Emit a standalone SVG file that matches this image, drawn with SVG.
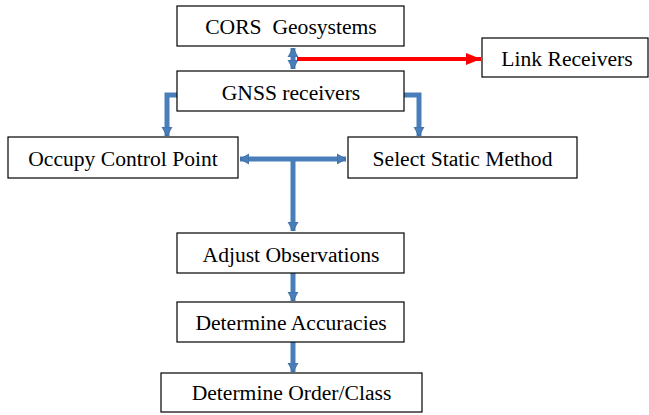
<svg xmlns="http://www.w3.org/2000/svg" width="649" height="415" viewBox="0 0 649 415">
<style>
.box{fill:#fff;stroke:#000;stroke-width:1.2}
.lbl{font-family:'Liberation Serif','Times New Roman',Times,serif;font-size:21.6px;fill:#000;text-anchor:middle}
.blue{fill:none;stroke:#4A7EBB;stroke-width:5}
.red{fill:none;stroke:#FF0000;stroke-width:4}
</style>
<defs>
<marker id="bh" markerUnits="userSpaceOnUse" markerWidth="12" markerHeight="12" viewBox="0 0 12 12" refX="9" refY="6" orient="auto-start-reverse">
<path d="M0,1 L9,6 L0,11 Z" fill="#4A7EBB" stroke="#3B6A9E" stroke-width="0.8"/>
</marker>
<marker id="rh" markerUnits="userSpaceOnUse" markerWidth="16" markerHeight="14" viewBox="0 0 16 14" refX="15" refY="7" orient="auto">
<path d="M0,1 L15,7 L0,13 Z" fill="#FF0000"/>
</marker>
</defs>
<g id="connectors">
<line class="blue" x1="293" y1="48" x2="293" y2="69" marker-start="url(#bh)" marker-end="url(#bh)"/>
<line class="red" x1="297" y1="59" x2="481" y2="59" marker-end="url(#rh)"/>
<path class="blue" d="M177,95 H167 V136" marker-end="url(#bh)"/>
<path class="blue" d="M404,95 H419 V136" marker-end="url(#bh)"/>
<line class="blue" x1="240" y1="159" x2="346" y2="159" marker-start="url(#bh)" marker-end="url(#bh)"/>
<line class="blue" x1="293" y1="159" x2="293" y2="231" marker-end="url(#bh)"/>
<line class="blue" x1="293" y1="273" x2="293" y2="301" marker-end="url(#bh)"/>
<line class="blue" x1="293" y1="342" x2="293" y2="372" marker-end="url(#bh)"/>
</g>
<g id="cors"><rect class="box" x="177" y="6" width="227" height="40"/><text class="lbl" x="291" y="34" xml:space="preserve">CORS  Geosystems</text></g>
<g id="gnss"><rect class="box" x="177" y="71" width="227" height="40"/><text class="lbl" x="291" y="99.5">GNSS receivers</text></g>
<g id="link"><rect class="box" x="482" y="38" width="166" height="39"/><text class="lbl" x="567" y="66">Link Receivers</text></g>
<g id="occupy"><rect class="box" x="8" y="137" width="230" height="41"/><text class="lbl" x="123" y="166">Occupy Control Point</text></g>
<g id="select"><rect class="box" x="348" y="137" width="229" height="41"/><text class="lbl" x="462.5" y="166">Select Static Method</text></g>
<g id="adjust"><rect class="box" x="177" y="233" width="227" height="40"/><text class="lbl" x="291" y="261.5">Adjust Observations</text></g>
<g id="accuracies"><rect class="box" x="177" y="302" width="227" height="40"/><text class="lbl" x="291" y="330">Determine Accuracies</text></g>
<g id="order"><rect class="box" x="161" y="373" width="261" height="39"/><text class="lbl" x="291.5" y="400">Determine Order/Class</text></g>
</svg>
